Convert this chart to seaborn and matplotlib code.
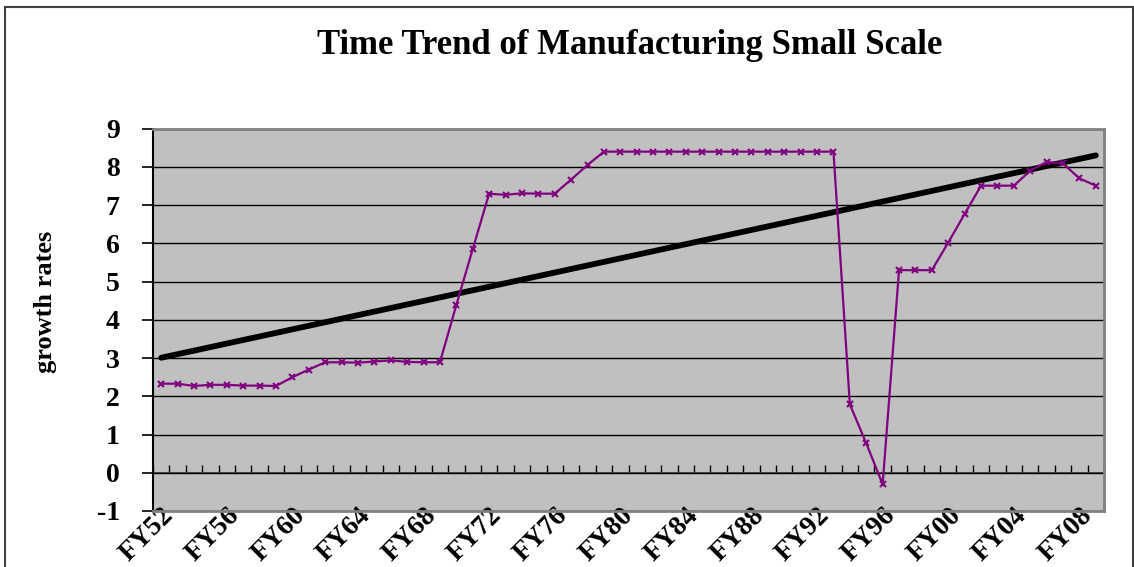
import numpy as np
import pandas as pd
import matplotlib
matplotlib.use("Agg")
import matplotlib.pyplot as plt
import matplotlib.patches as mpatches
import seaborn as sns

years = [f"FY{(52 + i) % 100:02d}" for i in range(58)]
growth = [2.33, 2.33, 2.27, 2.30, 2.30, 2.28, 2.28, 2.27, 2.50, 2.70,
          2.89, 2.89, 2.88, 2.91, 2.94, 2.90, 2.89, 2.89, 4.39, 5.85,
          7.30, 7.27, 7.31, 7.30, 7.30, 7.67, 8.05, 8.40, 8.40, 8.40,
          8.40, 8.40, 8.40, 8.40, 8.40, 8.40, 8.40, 8.40, 8.40, 8.40,
          8.40, 8.40, 1.79, 0.77, -0.30, 5.30, 5.30, 5.30, 6.02, 6.77,
          7.51, 7.51, 7.51, 7.90, 8.13, 8.09, 7.70, 7.51]
label_years = years[::4]
yticks = list(range(-1, 10))

df = pd.DataFrame({"idx": np.arange(len(years)), "growth": growth})

sns.set_theme(style="white")
plt.rcParams['font.family'] = ['Liberation Serif', 'DejaVu Serif']
plt.rcParams['font.weight'] = 'bold'
plt.rcParams['text.color'] = 'black'
plt.rcParams['xtick.color'] = 'black'
plt.rcParams['ytick.color'] = 'black'
plt.rcParams['axes.labelcolor'] = 'black'

W, H = 1134, 567
fig = plt.figure(figsize=(W / 100, H / 100), dpi=100)
fig.patch.set_facecolor('white')
L, R, T, B = 153, 1104, 128.7, 511
ax = fig.add_axes([L / W, 1 - B / H, (R - L) / W, (B - T) / H])
ax.set_facecolor('#C0C0C0')

sns.regplot(data=df, x="idx", y="growth", scatter=False, ci=None, truncate=True,
            ax=ax, line_kws=dict(color='black', lw=4.2, solid_capstyle='round', zorder=4))
sns.lineplot(data=df, x="idx", y="growth", ax=ax, color='#800080', lw=1.6,
             marker='x', markersize=4.5, markeredgewidth=1.5,
             markeredgecolor='#800080', zorder=5)

ax.set_xlim(-0.5, len(years) - 0.5)
ax.set_ylim(-1, 9)
ax.set_yticks(yticks)
ax.set_yticklabels([str(v) for v in yticks], fontsize=20, fontweight='bold')
ax.set_xticks(np.arange(0, len(years), 4))
ax.set_xticklabels(label_years, fontsize=20, fontweight='bold', rotation=45,
                   ha='right', va='top', rotation_mode='anchor')
ax.tick_params(axis='x', length=0, pad=-6)
ax.tick_params(axis='y', direction='out', length=8, width=1.2, color='black',
               pad=16, left=True)
ax.grid(axis='y', color='black', lw=1.0)
ax.grid(axis='x', visible=False)
ax.set_axisbelow(True)
ax.set_xlabel('')
ax.set_ylabel('growth rates', fontsize=19, fontweight='bold')
ax.yaxis.set_label_coords((57 - L) / (R - L), (B - 302) / (B - T))

for s in ['top', 'right', 'bottom']:
    ax.spines[s].set_color('#808080')
    ax.spines[s].set_linewidth(2)
ax.spines['left'].set_color('black')
ax.spines['left'].set_linewidth(1.5)

# category axis crossing at y = 0
sec = ax.secondary_xaxis(0.1)
sec.set_xticks(np.arange(-0.5, len(years), 1.0))
sec.set_xticklabels([])
sec.tick_params(direction='in', length=6, width=1, color='black')
sec.spines['bottom'].set_color('#404040')
sec.spines['bottom'].set_linewidth(1.2)

fig.text(630 / W, 1 - 45 / H, 'Time Trend of Manufacturing Small Scale',
         ha='center', va='center', fontsize=25, fontweight='bold', color='black')

border = mpatches.Rectangle((5 / W, -0.05), (1133 - 5) / W, 1.05 - 7 / H,
                            transform=fig.transFigure, fill=False,
                            edgecolor='#404040', lw=1.5)
fig.patches.append(border)

fig.savefig('out.png', dpi=100)
